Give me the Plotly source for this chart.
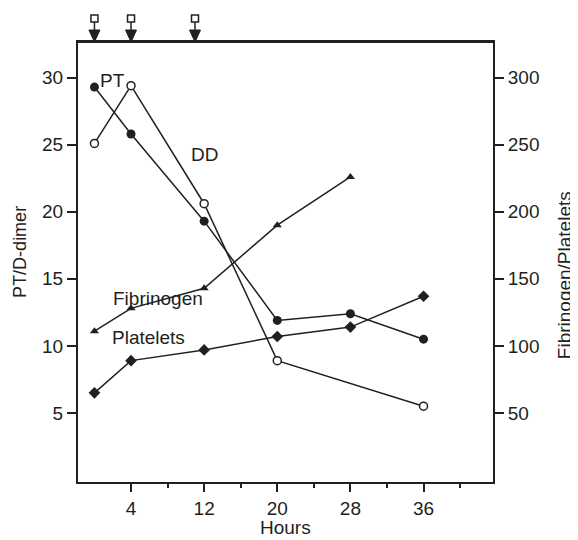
import plotly.graph_objects as go

# Data
hours = [0, 4, 12, 20, 28, 36]
pt = [29.3, 25.8, 19.3, 11.9, 12.4, 10.5]
dd = [25.1, 29.4, 20.6, 8.9, 5.5]
dd_hours = [0, 4, 12, 20, 36]
fib_hours = [0, 4, 12, 20, 28]
fibrinogen = [111, 128, 143, 190, 226]
platelets = [65, 89, 97, 107, 114, 137]
dose_hours = [0, 4, 11]

x_ticks = [4, 12, 20, 28, 36]
x_minor = [8, 16, 24, 32, 40]
left_ticks = [5, 10, 15, 20, 25, 30]
right_ticks = [50, 100, 150, 200, 250, 300]

INK = "#231f20"
FONT = "Liberation Sans, Arial, Helvetica, sans-serif"
LW = 1.5

fig = go.Figure()
fig.add_trace(go.Scatter(x=hours, y=pt, mode="lines+markers", name="PT",
                         line=dict(color=INK, width=LW),
                         marker=dict(symbol="circle", size=9, color=INK)))
fig.add_trace(go.Scatter(x=dd_hours, y=dd, mode="lines+markers", name="DD",
                         line=dict(color=INK, width=LW),
                         marker=dict(symbol="circle", size=8, color="white",
                                     line=dict(color=INK, width=1.5))))
fig.add_trace(go.Scatter(x=fib_hours, y=fibrinogen, mode="lines+markers", name="Fibrinogen",
                         yaxis="y2", line=dict(color=INK, width=LW),
                         marker=dict(symbol="triangle-up", size=8, color=INK)))
fig.add_trace(go.Scatter(x=hours, y=platelets, mode="lines+markers", name="Platelets",
                         yaxis="y2", line=dict(color=INK, width=LW),
                         marker=dict(symbol="diamond", size=9, color=INK)))

# Frame top line
shapes = [dict(type="line", xref="paper", yref="paper", x0=0, x1=1, y0=1, y1=1,
               line=dict(color=INK, width=2))]
# Dose arrows at top
for h in dose_hours:
    common = dict(xref="x", xsizemode="pixel", xanchor=h,
                  yref="paper", ysizemode="pixel", yanchor=1)
    shapes.append(dict(type="line", x0=0, x1=0, y0=12, y1=21,
                       line=dict(color=INK, width=1.5), **common))
    shapes.append(dict(type="rect", x0=-3.5, x1=3.5, y0=20, y1=27,
                       fillcolor="white", line=dict(color=INK, width=1.5), **common))
    shapes.append(dict(type="path", path="M -5.5,12 L 5.5,12 L 0,0 Z",
                       fillcolor=INK, line=dict(color=INK, width=1), **common))

labels = [("PT", 2.0, 29.8), ("DD", 12.0, 24.3), ("Fibrinogen", 6.9, 13.5), ("Platelets", 5.9, 10.6)]
annotations = [dict(text=t, x=x, y=y, xref="x", yref="y", showarrow=False,
                    font=dict(size=19, color=INK, family=FONT))
               for t, x, y in labels]

# Axis titles
annotations += [
    dict(text="Hours", xref="paper", yref="paper", x=0.5, y=0, yanchor="middle",
         yshift=-45, showarrow=False, font=dict(size=19, color=INK, family=FONT)),
    dict(text="PT/D-dimer", xref="paper", yref="paper", x=0, y=0.523, xanchor="center",
         yanchor="middle", xshift=-58, textangle=-90, showarrow=False,
         font=dict(size=18, color=INK, family=FONT)),
    dict(text="Fibrinogen/Platelets", xref="paper", yref="paper", x=1, y=0.47, xanchor="center",
         yanchor="middle", xshift=71, textangle=-90, showarrow=False,
         font=dict(size=19, color=INK, family=FONT)),
]

fig.update_layout(
    width=570, height=532,
    margin=dict(l=70, r=85, t=34, b=58),
    paper_bgcolor="white", plot_bgcolor="white",
    showlegend=False,
    font=dict(family=FONT, size=18, color=INK),
    shapes=shapes,
    annotations=annotations,
    xaxis=dict(range=[-1.8, 43.6], tickvals=x_ticks, ticktext=[str(v) for v in x_ticks],
               ticks="outside", ticklen=8, tickwidth=1.5, tickcolor=INK,
               minor=dict(tickvals=x_minor, ticks="outside", ticklen=4, tickwidth=1.5, tickcolor=INK),
               showline=True, linecolor=INK, linewidth=2, mirror=True,
               showgrid=False, zeroline=False, automargin=False,
               tickfont=dict(size=19)),
    yaxis=dict(range=[-0.15, 32.66], tickvals=left_ticks,
               ticks="outside", ticklen=9, tickwidth=1.5, tickcolor=INK,
               showline=True, linecolor=INK, linewidth=2,
               showgrid=False, zeroline=False, automargin=False,
               tickfont=dict(size=19)),
    yaxis2=dict(range=[-1.5, 326.6], tickvals=right_ticks, overlaying="y", side="right",
                ticks="outside", ticklen=9, tickwidth=1.5, tickcolor=INK,
                showline=True, linecolor=INK, linewidth=2,
                showgrid=False, zeroline=False, automargin=False,
                tickfont=dict(size=19)),
)

fig.write_html("out.html")
